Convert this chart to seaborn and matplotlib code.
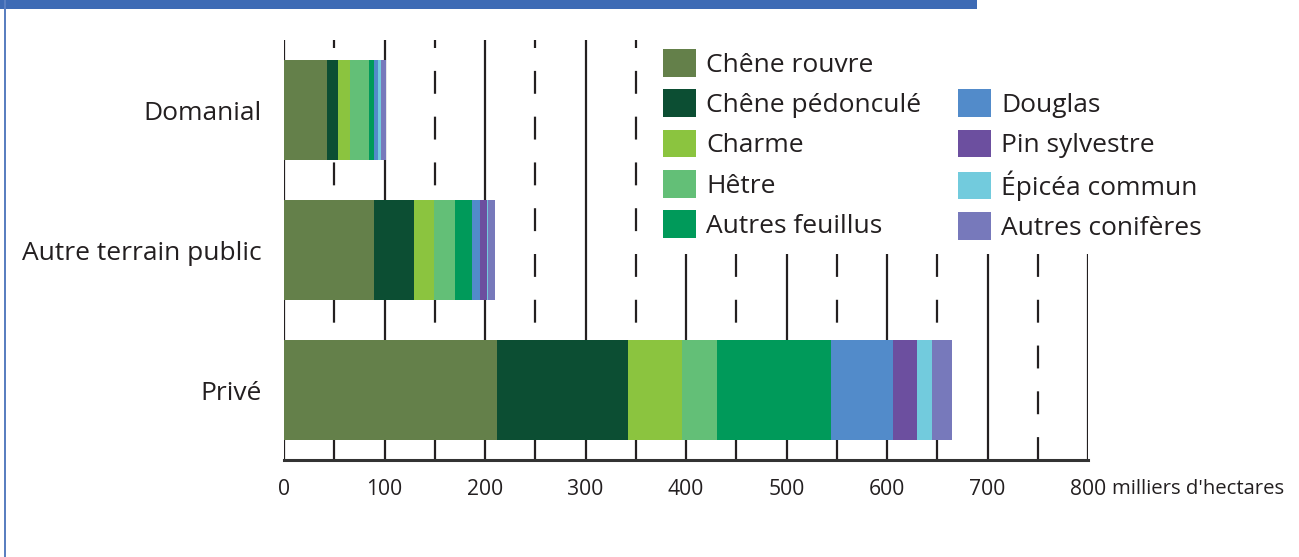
import matplotlib
matplotlib.use("Agg")
import matplotlib.pyplot as plt
import seaborn as sns
import pandas as pd
import numpy as np
from matplotlib.patches import Patch, Rectangle
from matplotlib.ticker import MultipleLocator

# --- données (milliers d'hectares) ---
categories = ["Domanial", "Autre terrain public", "Privé"]
especes = ["Chêne rouvre", "Chêne pédonculé", "Charme", "Hêtre", "Autres feuillus",
           "Douglas", "Pin sylvestre", "Épicéa commun", "Autres conifères"]
domanial = [43, 11, 12, 19, 5, 3.5, 0.5, 3, 4.5]
autre_public = [90, 39, 20.5, 21, 17, 8, 6, 1.3, 6.7]
prive = [212, 130, 54, 35, 113, 62, 24, 15, 20]
couleurs = ["#64804a", "#0c4e33", "#8bc43f", "#63bf77", "#009a5a",
            "#528bca", "#6c4f9f", "#72cbdd", "#7779bb"]
x_ticks = [0, 100, 200, 300, 400, 500, 600, 700, 800]

sns.set_style("white")
plt.rcParams['font.family'] = ['Open Sans', 'DejaVu Sans']

df = pd.DataFrame([domanial, autre_public, prive], index=categories, columns=especes)
cumul = df.cumsum(axis=1)

fig = plt.figure(figsize=(12.99, 5.57), dpi=100)
ax = fig.add_axes([284 / 1299, 97 / 557, 804 / 1299, 420 / 557])

# barres empilées : on dessine les cumuls du plus grand au plus petit
for esp, col in reversed(list(zip(especes, couleurs))):
    sns.barplot(x=cumul[esp].values, y=categories, orient="h", color=col,
                saturation=1, width=0.714, linewidth=0, ax=ax, zorder=3)

ax.set_xlim(0, 800)
ax.set_ylim(2.5, -0.5)
ax.set_xticks(x_ticks)
ax.xaxis.set_minor_locator(MultipleLocator(50))
ax.set_axisbelow(True)
ax.grid(which="major", axis="x", color="#231f20", lw=1.6, ls="-", zorder=0)
ax.grid(which="minor", axis="x", color="#231f20", lw=1.6, ls=(0, (10.3, 10.3)), zorder=0)
ax.grid(axis="y", visible=False)

for s in ["top", "right", "left"]:
    ax.spines[s].set_visible(False)
ax.spines["bottom"].set_color("#333333")
ax.spines["bottom"].set_linewidth(2.2)

ax.tick_params(axis="x", which="both", length=0, pad=14, labelsize=15.2, labelcolor="#231f20")
ax.tick_params(axis="y", length=0, pad=16, labelsize=19, labelcolor="#231f20")
ax.set_xlabel("")
ax.set_ylabel("")
ax.annotate("milliers d'hectares", xy=(1, 0), xycoords="axes fraction",
            xytext=(17, -14), textcoords="offset points", ha="left", va="top",
            fontsize=14.6, color="#231f20")

# légende sur deux colonnes (case vide en haut de la 2e colonne)
handles = [Patch(facecolor=c, edgecolor="none") for c in couleurs]
labels = list(especes)
handles.insert(5, Patch(facecolor="none", edgecolor="none"))
labels.insert(5, "")
leg = ax.legend(handles, labels, ncol=2, loc="upper left",
                bbox_to_anchor=(650 / 1299, 1 - 36 / 557), bbox_transform=fig.transFigure,
                frameon=True, fontsize=19, handlelength=1.23, handleheight=1.23,
                handletextpad=0.4, labelspacing=0.44, columnspacing=1.4,
                borderpad=0.5, borderaxespad=0)
leg.get_frame().set_facecolor("white")
leg.get_frame().set_edgecolor("none")
leg.get_frame().set_alpha(1)
leg.set_zorder(5)
for t in leg.get_texts():
    t.set_color("#231f20")

# cadre bleu
fig.patches.append(Rectangle((0, 1 - 9 / 557), 977 / 1299, 9 / 557, transform=fig.transFigure,
                             facecolor="#3e6bb5", edgecolor="none"))
fig.patches.append(Rectangle((4 / 1299, 0), 2.5 / 1299, 1, transform=fig.transFigure,
                             facecolor="#5a7fc0", edgecolor="none"))

fig.savefig("out.png", dpi=100)
